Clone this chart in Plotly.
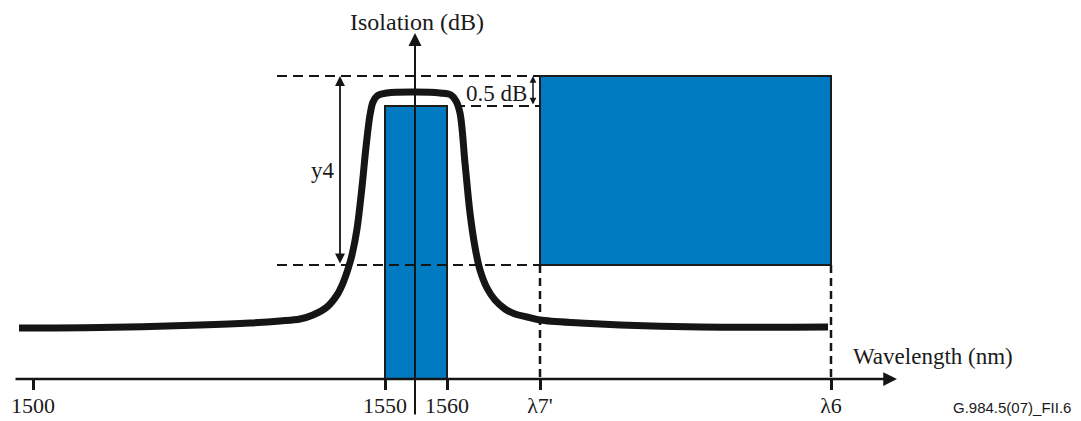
import plotly.graph_objects as go

# ---- data (schematic units: x = position along wavelength axis, y = isolation height above axis) ----
tick_pos = [33, 385, 447, 540, 831]
tick_text = ["1500", "1550", "1560", "λ7'", "λ6"]

curve_x = [19, 100, 200, 250, 280, 300, 313, 327, 337, 343, 348, 352, 357, 362, 366, 370, 373, 377,
           387, 415, 440, 451, 456, 460, 465, 470, 475, 480, 487, 495, 505, 515, 527, 540, 580, 620, 700, 828]
curve_y = [51, 51.5, 54, 56, 58, 60, 64, 72, 84, 96, 110, 124, 150, 192, 232, 264, 277, 283,
           286, 287, 286, 284, 278, 266, 216, 166, 132, 109, 91, 79, 70, 65, 62, 59, 56, 54, 52, 52]

passband_x = [385, 447]       # 1550 .. 1560 nm band
passband_top = 273            # 0.5 dB below the top level
stopband_x = [540, 831]       # λ7' .. λ6
level_top = 303               # upper isolation level
level_y4 = 114                # lower isolation level (top - y4)
dash_start = 277
halfdb_start = 455
yaxis_x = 415
y4_arrow_x = 340
halfdb_arrow_x = 533
xaxis_start, xaxis_end = 14, 897
yaxis_bottom, yaxis_top = -37, 346

BLUE = "#007BC2"
INK = "#151515"
SERIF = "Liberation Serif"

fig = go.Figure()

def rect(x0, x1, y0, y1):
    fig.add_trace(go.Scatter(
        x=[x0, x1, x1, x0, x0], y=[y0, y0, y1, y1, y0], mode="lines",
        fill="toself", fillcolor=BLUE, line=dict(color="#1c1c1c", width=2),
        hoverinfo="skip", showlegend=False))

rect(passband_x[0], passband_x[1], 0, passband_top)
rect(stopband_x[0], stopband_x[1], level_y4, level_top)

def dashed(xs, ys, dash, w):
    fig.add_trace(go.Scatter(x=xs, y=ys, mode="lines",
                             line=dict(color=INK, width=w, dash=dash),
                             hoverinfo="skip", showlegend=False))

dashed([dash_start, stopband_x[0]], [level_top, level_top], "10px,6px", 2)
dashed([dash_start, stopband_x[0]], [level_y4, level_y4], "10px,6px", 2)
dashed([halfdb_start, stopband_x[0]], [passband_top, passband_top], "10px,6px", 2)
dashed([stopband_x[0], stopband_x[0]], [level_y4, 0], "8px,5px", 2.5)
dashed([stopband_x[1], stopband_x[1]], [level_y4, 0], "8px,5px", 2.5)

fig.add_trace(go.Scatter(x=curve_x, y=curve_y, mode="lines",
                         line=dict(color=INK, width=7, shape="spline", smoothing=1.0),
                         hoverinfo="skip", showlegend=False))

def arrow(x, y, ax, ay, width, size, side="end"):
    fig.add_annotation(x=x, y=y, ax=ax, ay=ay, xref="x", yref="y", axref="x", ayref="y",
                       text="", showarrow=True, arrowhead=2, startarrowhead=2,
                       arrowsize=size, startarrowsize=size, arrowwidth=width,
                       arrowcolor=INK, arrowside=side)

# axes
arrow(xaxis_end, 0, xaxis_start, 0, 2.5, 1.1)
arrow(yaxis_x, yaxis_top, yaxis_x, yaxis_bottom, 2, 1.3)
# dimension arrows
arrow(y4_arrow_x, level_top, y4_arrow_x, level_y4, 1.8, 1.1, "end+start")
arrow(halfdb_arrow_x, level_top, halfdb_arrow_x, passband_top, 1.5, 0.9, "end+start")

def label(x, y, text, size=23, family=SERIF, xanchor="center"):
    fig.add_annotation(x=x, y=y, xref="x", yref="y", text=text, showarrow=False,
                       xanchor=xanchor, yanchor="middle",
                       font=dict(family=family, size=size, color="#1a1a1a"))

label(yaxis_x + 2, 357, "Isolation (dB)", size=24)
label(933, 23, "Wavelength (nm)")
label(323, 209, "y4")
label(529, 286, "0.5 dB", size=23, xanchor="right")
label(1012, -28, "G.984.5(07)_FII.6", size=15, family="Liberation Sans")

fig.update_layout(
    width=1081, height=421,
    margin=dict(l=0, r=0, t=0, b=0),
    paper_bgcolor="white", plot_bgcolor="white",
    xaxis=dict(range=[0, 1081], showgrid=False, zeroline=False, showline=False,
               tickvals=tick_pos, ticktext=tick_text, ticks="outside", ticklen=10,
               tickwidth=3, tickcolor=INK, anchor="free", position=42 / 421,
               ticklabelstandoff=-3,
               tickfont=dict(family=SERIF, size=22, color="#1a1a1a")),
    yaxis=dict(range=[-42, 379], showgrid=False, zeroline=False, showline=False,
               showticklabels=False, ticks=""),
)

fig.write_html("out.html", config={"displayModeBar": False},
               post_script="document.body.style.margin='0';"
                           "document.body.style.overflow='hidden';")
